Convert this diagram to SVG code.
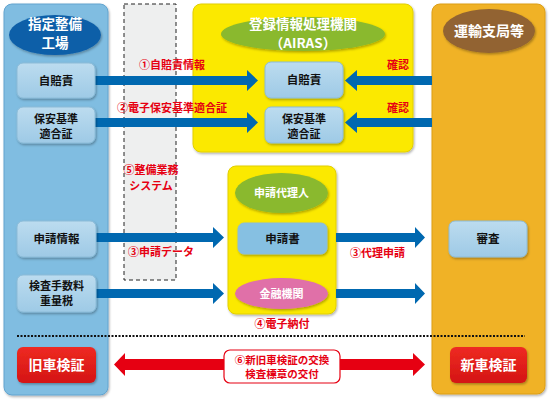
<svg xmlns="http://www.w3.org/2000/svg" width="550" height="403" viewBox="0 0 550 403">
<defs>
<linearGradient id="gBox" x1="0" y1="0" x2="0" y2="1"><stop offset="0" stop-color="#bcdcef"/><stop offset="1" stop-color="#9ecae6"/></linearGradient>
<linearGradient id="gRed" x1="0" y1="0" x2="0" y2="1"><stop offset="0" stop-color="#ee2a22"/><stop offset="1" stop-color="#d41414"/></linearGradient>
<filter id="sh" x="-10%" y="-10%" width="130%" height="140%"><feDropShadow dx="1" dy="1.5" stdDeviation="1" flood-color="#000" flood-opacity="0.3"/></filter>
<style>
text{font-family:"Noto Sans CJK JP","Noto Sans",sans-serif;text-anchor:middle}
.box{fill:url(#gBox);stroke:#8cbcd8;stroke-width:1;filter:url(#sh)}
.bt{font-size:11.5px;fill:#111;font-weight:bold}
.bt2{font-size:11px;fill:#111;font-weight:bold}
.hd{font-size:14px;fill:#fff;font-weight:bold}
.hd2{font-size:13.5px;fill:#fff;font-weight:bold}
.lb{font-size:11px;fill:#e60012;font-weight:bold;text-anchor:start}
.lc{font-size:11px;fill:#e60012;font-weight:bold}
.arr{fill:#0068b0}
.panel{filter:url(#sh)}
</style>
</defs>
<g id="panels">
<rect id="panel-seibi" class="panel" x="4" y="4" width="104" height="391" rx="8" fill="#80bde1" stroke="#62a4cf"/>
<rect id="panel-system" x="124" y="4" width="52" height="276" fill="#eeefef" stroke="#222" stroke-dasharray="4,3"/>
<rect id="panel-airas" class="panel" x="193" y="4" width="220" height="148" rx="8" fill="#fbe900" stroke="#e2cf00"/>
<rect id="panel-unyu" class="panel" x="432" y="4" width="113" height="390" rx="8" fill="#f0b226" stroke="#dc9e16"/>
<rect id="panel-agent" class="panel" x="228" y="166" width="108" height="148" rx="8" fill="#fbe900" stroke="#e2cf00"/>
</g>
<g id="connectors">
<polygon class="arr" points="95,76 247,76 247,70 258,80.5 247,91 247,85 95,85"/>
<polygon class="arr" points="432,76 357,76 357,70 345,80.5 357,91 357,85 432,85"/>
<polygon class="arr" points="95,118 247,118 247,112 258,122.5 247,133 247,127 95,127"/>
<polygon class="arr" points="432,118 357,118 357,112 345,122.5 357,133 357,127 432,127"/>
<polygon class="arr" points="96,233 213,233 213,227 224,237.5 213,248 213,242 96,242"/>
<polygon class="arr" points="336,233 415,233 415,227 425,237.5 415,248 415,242 336,242"/>
<polygon class="arr" points="96,289 213,289 213,283 224,293.5 213,304 213,298 96,298"/>
<polygon class="arr" points="336,289 415,289 415,283 425,293.5 415,304 415,298 336,298"/>
<polygon fill="#e60012" points="114,364.5 125,353 125,359 413,359 413,353 425,364.5 413,376 413,370 125,370 125,376"/>
<line x1="17" y1="336" x2="525" y2="336" stroke="#111" stroke-width="2" stroke-dasharray="2,1.5"/>
</g>
<g id="labels">
<text class="lb" x="139" y="69">①自賠責情報</text>
<text class="lb" x="117" y="112">②電子保安基準適合証</text>
<text class="lb" x="387" y="69">確認</text>
<text class="lb" x="387" y="112">確認</text>
<text class="lc" x="151" y="174">⑤整備業務</text>
<text class="lc" x="151" y="189.5">システム</text>
<text class="lb" x="128" y="256">③申請データ</text>
<text class="lb" x="350" y="257">③代理申請</text>
<text class="lc" x="282" y="328">④電子納付</text>
</g>
<g id="n-seibi-head">
<ellipse cx="55" cy="35" rx="46" ry="20" fill="#0b5ea8" filter="url(#sh)"/>
<text class="hd2" x="55" y="28.5">指定整備</text>
<text class="hd2" x="55" y="47.5">工場</text>
</g>
<g id="n-jibai-left"><rect class="box" x="17" y="63" width="78" height="35" rx="6"/><text class="bt" x="56" y="85">自賠責</text></g>
<g id="n-hoan-left"><rect class="box" x="17" y="107" width="78" height="36" rx="6"/><text class="bt2" x="56" y="123">保安基準</text><text class="bt2" x="56" y="137.5">適合証</text></g>
<g id="n-shinsei-info"><rect class="box" x="17" y="221" width="79" height="36" rx="6"/><text class="bt" x="56.5" y="243">申請情報</text></g>
<g id="n-tesuryo"><rect class="box" x="17" y="275" width="79" height="37" rx="6"/><text class="bt2" x="56.5" y="290">検査手数料</text><text class="bt2" x="56.5" y="304.5">重量税</text></g>
<g id="n-airas-head">
<ellipse cx="303" cy="34" rx="82" ry="17" fill="#8ab92d" filter="url(#sh)"/>
<text class="hd2" x="303" y="28.5">登録情報処理機関</text>
<text class="hd2" x="303" y="47.5">（AIRAS）</text>
</g>
<g id="n-jibai-airas"><rect class="box" x="265" y="62" width="78" height="36" rx="6"/><text class="bt" x="304" y="84">自賠責</text></g>
<g id="n-hoan-airas"><rect class="box" x="265" y="107" width="78" height="36" rx="6"/><text class="bt2" x="304" y="123">保安基準</text><text class="bt2" x="304" y="137.5">適合証</text></g>
<g id="n-unyu-head">
<ellipse cx="489" cy="31" rx="46" ry="22" fill="#926431" filter="url(#sh)"/>
<text class="hd" x="489" y="36">運輸支局等</text>
</g>
<g id="n-agent"><ellipse cx="281.5" cy="193" rx="46.5" ry="20" fill="#8ab92d" filter="url(#sh)"/><text class="hd" x="281.5" y="197" style="font-size:11px">申請代理人</text></g>
<g id="n-shinseisho"><rect class="box" x="238" y="223" width="89" height="31" rx="6" style="fill:#86c0e2"/><text class="bt" x="282.5" y="243">申請書</text></g>
<g id="n-bank"><ellipse cx="281.5" cy="293.5" rx="46.5" ry="15.5" fill="#e070a8" filter="url(#sh)"/><text class="hd" x="281.5" y="298" style="font-size:11px">金融機関</text></g>
<g id="n-shinsa"><rect class="box" x="449" y="221" width="78" height="36" rx="6"/><text class="bt" x="488" y="243">審査</text></g>
<g id="n-old"><rect x="17" y="347" width="79" height="36" rx="6" fill="url(#gRed)" filter="url(#sh)"/><text class="hd" x="56.5" y="370">旧車検証</text></g>
<g id="n-new"><rect x="450" y="347" width="77" height="36" rx="6" fill="url(#gRed)" filter="url(#sh)"/><text class="hd" x="488.5" y="370">新車検証</text></g>
<g id="n-exchange"><rect x="224" y="350" width="116" height="33" rx="6" fill="#fff" stroke="#e60012" stroke-width="1.2"/><text class="lc" x="282" y="363.5" style="font-size:10.5px">⑥新旧車検証の交換</text><text class="lc" x="282" y="377.5" style="font-size:10.5px">検査標章の交付</text></g>
</svg>
